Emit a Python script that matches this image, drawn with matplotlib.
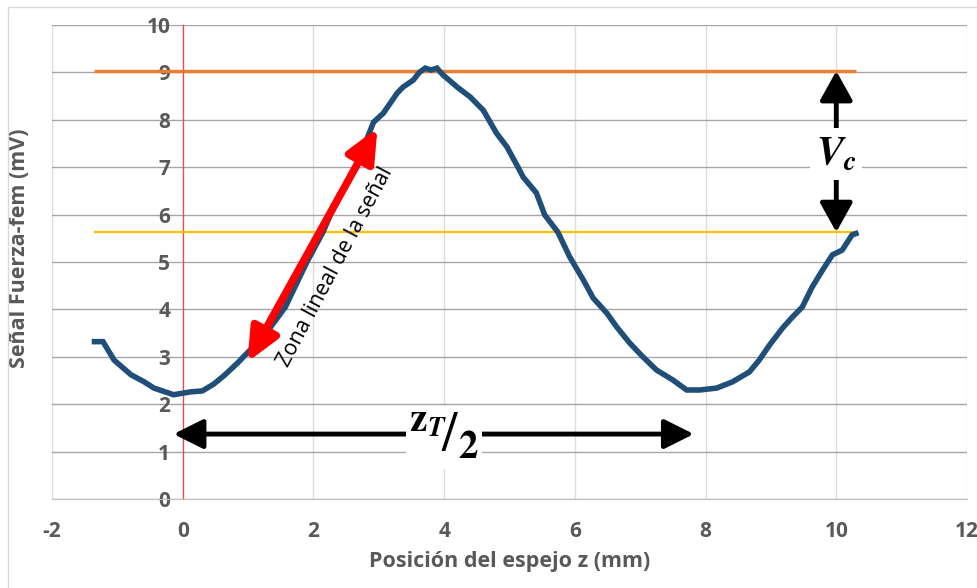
import numpy as np
import matplotlib.pyplot as plt
from matplotlib.patches import Rectangle

plt.rcParams['font.family'] = ['Open Sans', 'DejaVu Sans']
plt.rcParams['mathtext.fontset'] = 'stix'
plt.rcParams['axes.unicode_minus'] = False

# mirror position (mm) and force/emf signal (mV)
z_mm = [-1.35, -1.22, -1.05, -0.79, -0.60, -0.44, -0.14, 0.12, 0.30, 0.47,
        0.63, 0.84, 0.93, 1.25, 1.57, 1.90, 2.15, 2.26, 2.45, 2.64,
        2.75, 2.92, 3.07, 3.28, 3.37, 3.53, 3.62, 3.71, 3.80, 3.89,
        3.98, 4.20, 4.40, 4.60, 4.80, 4.96, 5.13, 5.21, 5.41, 5.54,
        5.74, 5.92, 6.13, 6.28, 6.49, 6.64, 6.84, 7.04, 7.25, 7.50,
        7.71, 7.91, 8.17, 8.41, 8.67, 8.82, 8.98, 9.18, 9.33, 9.48,
        9.63, 9.79, 9.94, 10.09, 10.24, 10.30]
signal_mv = [3.32, 3.32, 2.93, 2.62, 2.48, 2.34, 2.20, 2.26, 2.28, 2.42,
             2.60, 2.87, 3.00, 3.45, 4.05, 5.00, 5.64, 6.00, 6.50, 7.00,
             7.36, 7.95, 8.14, 8.56, 8.69, 8.84, 9.00, 9.09, 9.05, 9.09,
             8.95, 8.69, 8.48, 8.20, 7.72, 7.43, 7.00, 6.79, 6.46, 5.99,
             5.63, 5.11, 4.62, 4.24, 3.92, 3.63, 3.29, 3.00, 2.72, 2.51,
             2.30, 2.30, 2.34, 2.47, 2.68, 2.93, 3.25, 3.61, 3.84, 4.05,
             4.47, 4.83, 5.15, 5.25, 5.57, 5.60]

v_max = 9.03      # top reference level
v_end = 5.63      # level at end of scan
z_min1, z_min2 = -0.14, 7.82
lin_start = (0.99, 2.89)
lin_end = (2.98, 7.83)

grey = '#595959'

fig = plt.figure(figsize=(9.77, 5.88), dpi=100)
ax = fig.add_axes([52/977, 1 - 499/588, (967 - 52)/977, (499 - 25)/588])

ax.set_xlim(-2, 12)
ax.set_ylim(0, 10)
ax.set_xticks(np.arange(-2, 13, 2))
ax.set_yticks(np.arange(0, 11, 1))
ax.grid(axis='y', color='#a6a6a6', lw=1)
ax.grid(axis='x', color='#dcdcdc', lw=1)
ax.set_axisbelow(True)

for s in ['top', 'right']:
    ax.spines[s].set_visible(False)
ax.spines['left'].set_position(('data', 0))
ax.spines['left'].set_color('#ff4040')
ax.spines['left'].set_linewidth(0.9)
ax.spines['bottom'].set_color('#bfbfbf')
ax.tick_params(length=0, labelsize=15, labelcolor=grey, pad=9)
ax.tick_params(axis='x', pad=16)
for lab in ax.get_xticklabels() + ax.get_yticklabels():
    lab.set_fontweight('bold')

ax.set_xlabel('Posición del espejo z (mm)', fontsize=15.5, fontweight='bold',
              color=grey, labelpad=6)
ax.set_ylabel('Señal Fuerza-fem (mV)', fontsize=15.5, fontweight='bold',
              color=grey)
ax.yaxis.set_label_coords((30 - 52) / 915, 0.53)

ax.hlines(v_max, z_mm[0], z_mm[-1], color='#ed7d31', lw=2.4, zorder=3)
ax.hlines(v_end, z_mm[0], z_mm[-1], color='#ffc000', lw=1.6, zorder=3)

ax.plot(z_mm, signal_mv, color='#1f4e79', lw=4, solid_joinstyle='miter',
        zorder=4)

# linear region arrow
ax.annotate('', xy=lin_end, xytext=lin_start,
            arrowprops=dict(arrowstyle='<|-|>,head_length=1.0,head_width=0.45',
                            mutation_scale=20, color='#ff0000', lw=5.5,
                            shrinkA=0, shrinkB=0), zorder=5)
ax.text(2.33, 4.9, 'Zona lineal de la señal', rotation=62,
        rotation_mode='anchor', ha='center', va='center', fontsize=15.5,
        color='black', zorder=6)

# Vc arrow
ax.annotate('', xy=(10, v_max), xytext=(10, v_end),
            arrowprops=dict(arrowstyle='<|-|>,head_length=0.9,head_width=0.5',
                            mutation_scale=20, color='black', lw=3.5,
                            shrinkA=0, shrinkB=0), zorder=5)
ax.text(10, 7.28, r'$\mathbfit{V}_{\mathbfit{c}}$', ha='center', va='center',
        fontsize=29, zorder=6,
        bbox=dict(facecolor='white', edgecolor='none', pad=4))

# z_T/2 arrow
ax.annotate('', xy=(z_min2, 1.37), xytext=(z_min1, 1.37),
            arrowprops=dict(arrowstyle='<|-|>,head_length=0.9,head_width=0.45',
                            mutation_scale=20, color='black', lw=3.5,
                            shrinkA=0, shrinkB=0), zorder=5)
ax.text(4.0, 1.3, r'${}^{\mathbf{z}_{\mathbfit{T}}}\!/_{\mathbf{2}}$',
        ha='center', va='center', fontsize=40, zorder=6,
        bbox=dict(facecolor='white', edgecolor='none', pad=2))

fig.patches.append(Rectangle((8/977, -0.1), 1.2, 1 - 7/588 + 0.1,
                             transform=fig.transFigure, fill=False,
                             edgecolor='#d9d9d9', lw=1))

fig.savefig('out.png', dpi=100)
